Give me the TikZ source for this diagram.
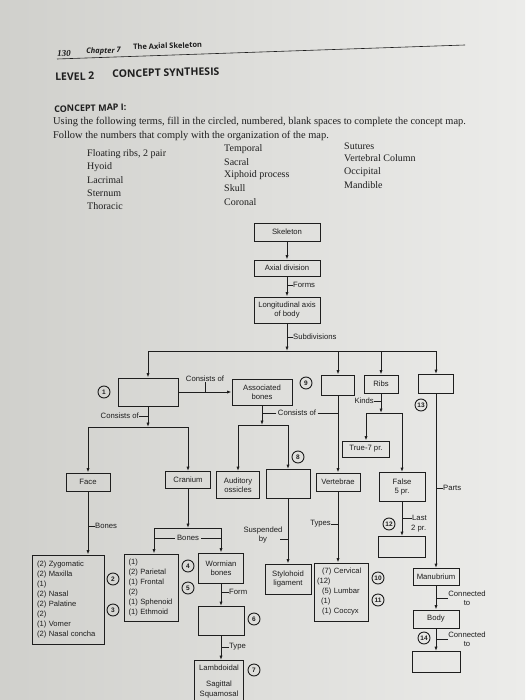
\documentclass[tikz,border=0pt]{standalone}
\usepackage{fontspec}
\setmainfont{Liberation Serif}
\newfontfamily\dfont{Liberation Sans}
\newfontfamily\hfont{Open Sans}
\usetikzlibrary{arrows.meta}
\definecolor{ink}{RGB}{30,30,30}
\definecolor{pgL}{RGB}{208,208,204}
\definecolor{pgR}{RGB}{236,236,234}
\begin{document}
\begin{tikzpicture}[x=1pt,y=-1pt,
  every node/.style={text=ink},
  bx/.style={draw=ink, line width=0.9pt, inner sep=1pt, align=center, font=\dfont\fontsize{7.7}{8.6}\selectfont},
  listbox/.style={bx, align=left, inner xsep=4pt, font=\dfont\fontsize{7.6}{10}\selectfont},
  cnum/.style={circle, draw=ink, line width=0.9pt, minimum size=12pt, inner sep=0pt, font=\dfont\bfseries\fontsize{6.5}{7}\selectfont},
  lbl/.style={inner sep=0pt, font=\dfont\fontsize{7.7}{9.5}\selectfont, align=center},
  con/.style={draw=ink, line width=0.9pt},
  arr/.style={con, -{Latex[length=4.5pt,width=3.2pt]}},
  term/.style={anchor=west, inner sep=0pt, font=\fontsize{10}{11}\selectfont},
  instr/.style={anchor=west, inner sep=0pt, font=\fontsize{10.4}{12}\selectfont},
  head/.style={anchor=west, inner sep=0pt, font=\hfont\bfseries\fontsize{10.5}{12}\selectfont, rotate=1.5},
]
\useasboundingbox (0,0) rectangle (525,700);
\shade[left color=pgL, right color=pgR] (0,0) rectangle (525,700);
\clip (0,0) rectangle (525,700);

% ---------- header ----------
\node[anchor=west, inner sep=0pt, font=\bfseries\itshape\fontsize{9}{10}\selectfont, rotate=2] (pg) at (57,54) {130};
\node[anchor=west, inner sep=0pt, font=\hfont\bfseries\itshape\fontsize{7.5}{9}\selectfont, rotate=2] (chap) at (86,52) {Chapter 7};
\node[anchor=west, inner sep=0pt, font=\hfont\bfseries\fontsize{7.5}{9}\selectfont, rotate=2] (axs) at (133,47) {The Axial Skeleton};
\coordinate (ruleL) at (57,59);
\coordinate (ruleR) at (465,45);
\draw[ink, line width=0.6pt] (ruleL) -- (ruleR);
\node[head] (lev) at (55,77) {LEVEL 2};
\node[head] (cs) at (112,74) {CONCEPT SYNTHESIS};
\node[head, font=\hfont\bfseries\fontsize{9}{11}\selectfont] (cm) at (54,109) {CONCEPT MAP I:};
\node[instr] (ins1) at (53,122) {Using the following terms, fill in the circled, numbered, blank spaces to complete the concept map.};
\node[instr] (ins2) at (53,135.5) {Follow the numbers that comply with the organization of the map.};
\node[term] (t1) at (87,154) {Floating ribs, 2 pair};
\node[term] (t2) at (87,167) {Hyoid};
\node[term] (t3) at (87,180) {Lacrimal};
\node[term] (t4) at (87,193) {Sternum};
\node[term] (t5) at (87,206) {Thoracic};
\node[term] (t6) at (224,149) {Temporal};
\node[term] (t7) at (224,162) {Sacral};
\node[term] (t8) at (224,175) {Xiphoid process};
\node[term] (t9) at (224,188) {Skull};
\node[term] (t10) at (224,202) {Coronal};
\node[term] (t11) at (344,146) {Sutures};
\node[term] (t12) at (344,158.5) {Vertebral Column};
\node[term] (t13) at (344,172) {Occipital};
\node[term] (t14) at (344,185) {Mandible};

% ---------- top spine ----------
\node[bx, minimum width=66pt, minimum height=18pt] (skel) at (287,232) {Skeleton};
\node[bx, minimum width=66pt, minimum height=16pt] (axial) at (287,268) {Axial division};
\node[bx, minimum width=66pt, minimum height=26pt] (longi) at (287,310) {Longitudinal axis\\of body};
\draw[arr] (skel) -- (axial);
\draw[arr] (axial) -- (longi);
\node[lbl, anchor=west] (lforms) at (293,285) {Forms};
\draw[con] (lforms.west) -- (lforms.west -| axial.south);
\coordinate (bus) at (287,351);
\coordinate (busL) at (148,351);
\coordinate (busR) at (436,351);
\draw[arr] (longi) -- (bus);
\draw[con] (busL) -- (busR);
\node[lbl, anchor=west] (lsub) at (293,337) {Subdivisions};
\draw[con] (lsub.west) -- (lsub.west -| longi.south);

% ---------- second row ----------
\node[bx, minimum width=60pt, minimum height=28pt] (b1) at (148,392) {};
\node[bx, minimum width=60pt, minimum height=26pt] (assoc) at (262,392) {Associated\\bones};
\node[bx, minimum width=33pt, minimum height=20pt] (b9) at (338,385) {};
\node[bx, minimum width=34pt, minimum height=18pt] (ribs) at (381,384) {Ribs};
\node[bx, minimum width=35pt, minimum height=19pt] (b13) at (436,384) {};
\draw[arr] (busL) -- (b1);
\draw[arr] (b9 |- busL) -- (b9);
\draw[arr] (ribs |- busL) -- (ribs);
\draw[arr] (busR) -- (b13);
\node[cnum] (c1) at (104,392) {1};
\node[cnum] (c9) at (306,383) {9};
\node[cnum] (c13) at (421,405) {13};

\draw[arr] (b1) -- (assoc);
\node[lbl] (lcons1) at (205,379) {Consists of};
\draw[con] (lcons1.south) -- (lcons1.south |- b1.east);

% ---------- third row ----------
\node[bx, minimum width=44pt, minimum height=18pt] (face) at (88,482) {Face};
\node[bx, minimum width=45pt, minimum height=17pt] (cran) at (188,480) {Cranium};
\node[bx, minimum width=43pt, minimum height=27pt] (audi) at (238,485) {Auditory\\ossicles};
\node[bx, minimum width=44pt, minimum height=29pt] (b8) at (288,484) {};
\node[bx, minimum width=47pt, minimum height=16pt] (true) at (366,449) {True-7 pr.};
\node[bx, minimum width=44pt, minimum height=18pt] (vert) at (338,482) {Vertebrae};
\node[bx, minimum width=46pt, minimum height=29pt] (false) at (402,487) {False\\5 pr.};
\node[cnum] (c8) at (298,457) {8};

\coordinate (j1) at (148,427);
\draw[arr] (b1) -- (j1);
\draw[con] (j1 -| face) -- (j1 -| cran);
\draw[arr] (j1 -| face) -- (face);
\draw[arr] (j1 -| cran) -- (cran);
\node[lbl, anchor=east] (lcons2) at (139,416) {Consists of};
\draw[con] (lcons2.east) -- (lcons2.east -| b1.south);

\coordinate (j2) at (262,425);
\draw[arr] (assoc) -- (j2);
\draw[con] (j2 -| audi) -- (j2 -| b8);
\draw[arr] (j2 -| audi) -- (audi);
\draw[arr] (j2 -| b8) -- (b8);
\node[lbl, inner xsep=1.5pt] (lcons3) at (297,413) {Consists of};
\draw[con] (lcons3.west) -- (lcons3.west -| assoc.south);
\draw[con] (lcons3.east) -- (lcons3.east -| b9.south);

\coordinate (j3) at (381,413);
\draw[arr] (ribs) -- (j3);
\draw[con] (j3 -| true) -- (j3 -| false);
\draw[arr] (j3 -| true) -- (true);
\draw[arr] (j3 -| false) -- (false);
\node[lbl, anchor=east] (lkinds) at (374,401) {Kinds};
\draw[con] (lkinds.east) -- (lkinds.east -| ribs.south);

\draw[arr] (b9) -- (vert);

% ---------- lower part ----------
\node[listbox, minimum width=72pt, minimum height=89pt, text width=62pt] (facebones) at (68,599.5) {(2) Zygomatic\\(2) Maxilla\\(1)\\(2) Nasal\\(2) Palatine\\(2)\\(1) Vomer\\(2) Nasal concha};
\node[listbox, minimum width=54pt, minimum height=67pt, text width=45pt] (cranbones) at (151,587.5) {(1)\\(2) Parietal\\(1) Frontal\\(2)\\(1) Sphenoid\\(1) Ethmoid};
\node[bx, minimum width=45pt, minimum height=30pt] (worm) at (221,568) {Wormian\\bones};
\node[bx, minimum width=46pt, minimum height=29pt] (b6) at (221,621) {};
\node[bx, minimum width=49pt, minimum height=60pt, anchor=north] (sut) at (219,660) {};
\node[lbl] (s1) at (219,668) {Lambdoidal};
\node[lbl] (s2) at (219,685) {Sagittal};
\node[lbl] (s3) at (219,694.5) {Squamosal};
\node[bx, minimum width=46pt, minimum height=30pt] (stylo) at (288,579) {Stylohoid\\ligament};
\node[listbox, minimum width=54pt, minimum height=58pt, text width=48pt, inner xsep=2pt] (verttypes) at (341,592) {\hspace*{5pt}(7) Cervical\\(12)\\\hspace*{5pt}(5) Lumbar\\\hspace*{4pt}(1)\\\hspace*{5pt}(1) Coccyx};
\node[bx, minimum width=47pt, minimum height=21pt] (b12) at (402,547) {};
\node[bx, minimum width=46pt, minimum height=17pt] (manu) at (436,577) {Manubrium};
\node[bx, minimum width=46pt, minimum height=18pt] (body) at (436,619) {Body};
\node[bx, minimum width=48pt, minimum height=21pt] (b15) at (436,662) {};

\node[cnum] (c2) at (113,579) {2};
\node[cnum] (c3) at (113,610) {3};
\node[cnum] (c4) at (188,566) {4};
\node[cnum] (c5) at (188,588) {5};
\node[cnum] (c6) at (254,619) {6};
\node[cnum] (c7) at (254,670) {7};
\node[cnum] (c10) at (378,578) {10};
\node[cnum] (c11) at (378,600) {11};
\node[cnum] (c12) at (389,524) {12};
\node[cnum] (c14) at (424,638) {14};

% face
\draw[arr] (face.south) -- (face.south |- facebones.north);
\node[lbl, anchor=west] (lbones1) at (95,526) {Bones};
\draw[con] (lbones1.west) -- (lbones1.west -| face.south);

% cranium
\coordinate (j4) at (188,528);
\coordinate (j4L) at (154,528);
\coordinate (j4R) at (221,528);
\draw[arr] (cran) -- (j4);
\draw[con] (j4L) -- (j4R);
\draw[arr] (j4L) -- (j4L |- cranbones.north);
\draw[arr] (j4R) -- (worm);
\node[lbl, inner xsep=2pt] (lbones2) at (188,538) {Bones};
\draw[con] (lbones2.west) -- (lbones2.west -| j4L);
\draw[con] (lbones2.east) -- (lbones2.east -| j4R);
\draw[arr] (worm) -- (b6);
\node[lbl, anchor=west] (lform) at (229,592) {Form};
\draw[con] (lform.west) -- (lform.west -| worm.south);
\draw[arr] (b6.south) -- (b6.south |- sut.north);
\node[lbl, anchor=west] (ltype) at (229,647) {Type};
\draw[con] (ltype.west) -- (ltype.west -| b6.south);

% associated bones -> stylohoid
\draw[arr] (b8) -- (stylo);
\node[lbl] (lsusp) at (263,535) {Suspended\\by};
\coordinate (tsusp) at (280,539);
\draw[con] (tsusp) -- (tsusp -| b8.south);

% vertebrae
\draw[arr] (vert.south) -- (vert.south |- verttypes.north);
\node[lbl, anchor=east] (ltypes) at (331,524) {Types};
\draw[con] (ltypes.east) -- (ltypes.east -| vert.south);

% ribs false
\draw[arr] (false) -- (b12);
\node[lbl, anchor=west] (llast) at (412,518) {Last};
\node[lbl, anchor=west] (l2pr) at (411,529) {2 pr.};
\draw[con] (llast.west) -- (llast.west -| false.south);

% sternum
\draw[arr] (b13) -- (manu);
\node[lbl, anchor=west] (lparts) at (443,488) {Parts};
\draw[con] (lparts.west) -- (lparts.west -| b13.south);
\draw[arr] (manu) -- (body);
\node[lbl] (lconn1) at (467,598) {Connected\\to};
\draw[con] (lconn1.west) -- (lconn1.west -| manu.south);
\draw[arr] (body) -- (b15);
\node[lbl] (lconn2) at (467,639) {Connected\\to};
\draw[con] (lconn2.west) -- (lconn2.west -| body.south);
\end{tikzpicture}
\end{document}
